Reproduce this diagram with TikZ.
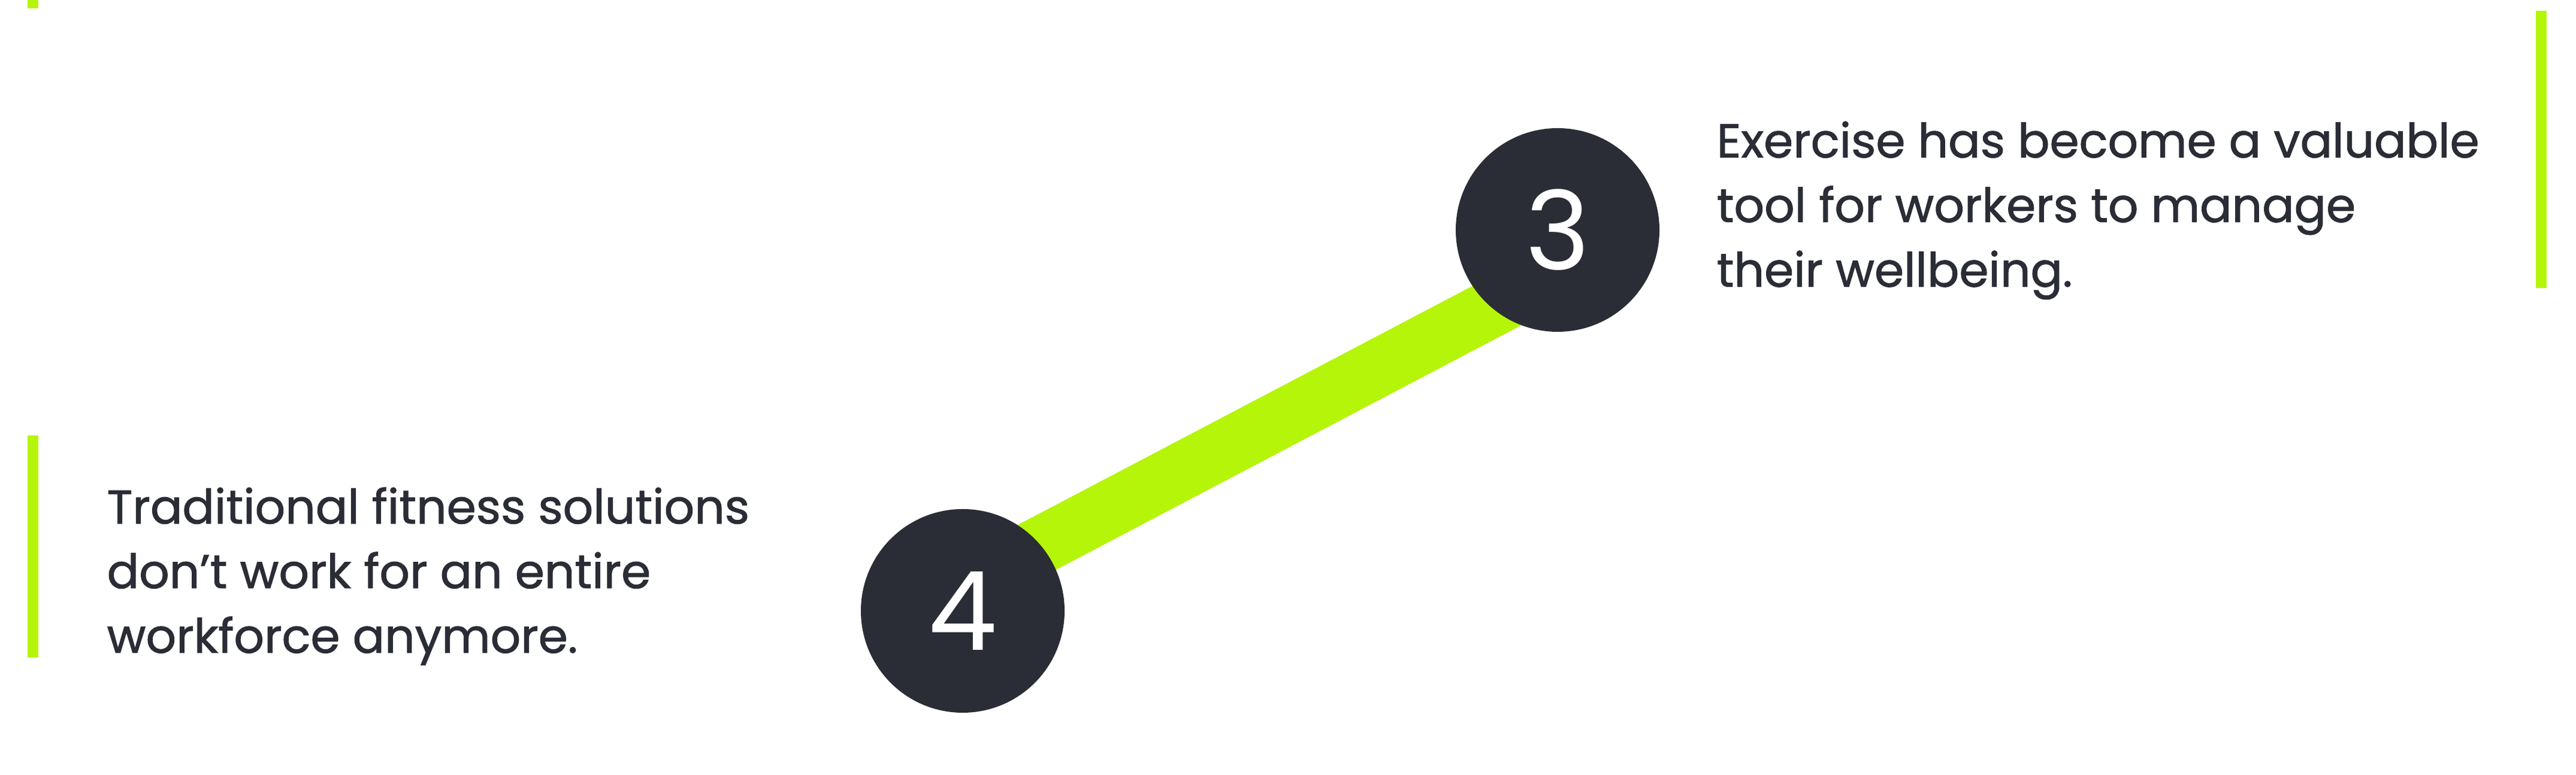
\documentclass[tikz,border=0pt]{standalone}
\usepackage{fontspec}
\setmainfont{Poppins}
\newfontfamily\poppinsmed[FakeBold=1.2]{Poppins}
\usepackage{tikz}
\usetikzlibrary{positioning,backgrounds}
\definecolor{lime}{HTML}{B5F50A}
\definecolor{ink}{HTML}{2A2D36}

\begin{document}
\begin{tikzpicture}[
num/.style={circle, fill=ink, minimum size=3.4cm, inner sep=0pt, text=white, font=\fontsize{52}{52}\selectfont},
txt/.style={anchor=north west, inner sep=0pt, align=left, text=ink, font=\poppinsmed\fontsize{22.5}{30.7}\selectfont},
bar/.style={lime, line width=0.18cm}
]
\useasboundingbox (0,0) rectangle (43,12.94);

\node (n3) [num] at (26.00,9.10) {3};
\node (n4) [num] at (16.07,2.74) {4};
\node (t3) [txt] at (28.65,10.92) {Exercise has become a valuable\\tool for workers to manage\\their wellbeing.};
\node (t4) [txt] at (1.78,4.81) {Traditional fitness solutions\\don’t work for an entire\\workforce anymore.};

\coordinate (b1) at (42.42,12.76);
\coordinate (b2) at (42.42,8.13);
\coordinate (b3) at (0.55,5.67);
\coordinate (b4) at (0.55,1.96);
\coordinate (b5) at (0.55,12.94);
\coordinate (b6) at (0.55,12.80);

\draw[bar] (b1) -- (b2);
\draw[bar] (b3) -- (b4);
\draw[bar] (b5) -- (b6);

% connector behind the circles
\begin{pgfonlayer}{background}
\draw[lime, line width=0.96cm, shorten <=-1cm, shorten >=-1cm] (n4.40) -- (n3.230);
\end{pgfonlayer}
\end{tikzpicture}
\end{document}
